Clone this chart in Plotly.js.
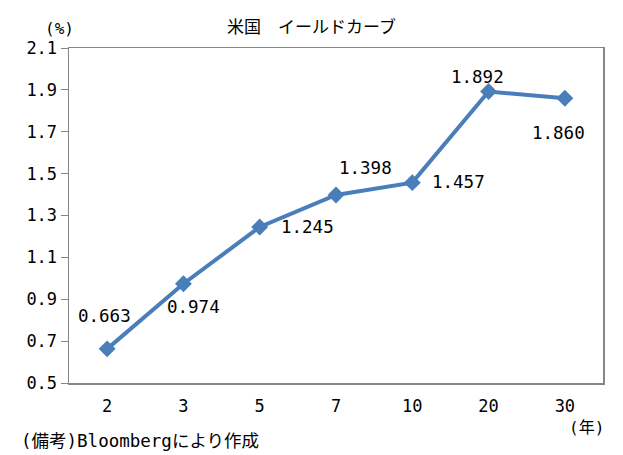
<!DOCTYPE html>
<html>
<head>
<meta charset="utf-8">
<script src="https://cdn.plot.ly/plotly-3.0.1.min.js"></script>
<style>
  html, body { margin: 0; padding: 0; background: #fff; }
  #chart { width: 623px; height: 455px; }
</style>
</head>
<body>
<div id="chart"></div>
<script>
// 年限と利回り
var maturities = ['2', '3', '5', '7', '10', '20', '30'];
var yields = [0.663, 0.974, 1.245, 1.398, 1.457, 1.892, 1.860];
var yieldLabels = ['0.663', '0.974', '1.245', '1.398', '1.457', '1.892', '1.860'];
var yTicks = [0.5, 0.7, 0.9, 1.1, 1.3, 1.5, 1.7, 1.9, 2.1];

// ラベルの位置ずらし (px)
var labelShiftX = [-3, 10, 48, 29, 46, -11, -6];
var labelShiftY = [33, -23, 0, 27, 1, 15, -35];

var numFont = 'DejaVu Sans Mono, Liberation Mono, monospace';
var mixFont = 'DejaVu Sans Mono, Noto Sans CJK JP, sans-serif';
var jpFont = 'Noto Sans CJK JP, sans-serif';
var lineColor = '#4a7ebb';
var axisColor = '#868686';

var trace = {
    type: 'scatter',
    mode: 'lines+markers',
    x: maturities,
    y: yields,
    line: { color: lineColor, width: 4 },
    marker: { symbol: 'diamond', size: 13, color: lineColor },
    hoverinfo: 'x+y'
};

// カテゴリ軸では注釈の x は番号で指定
var annotations = maturities.map(function (m, i) {
    return {
        x: i, y: yields[i], xref: 'x', yref: 'y',
        text: yieldLabels[i],
        showarrow: false,
        xshift: labelShiftX[i], yshift: labelShiftY[i],
        font: { family: numFont, size: 17.5, color: '#000' }
    };
});

annotations.push({
    xref: 'paper', yref: 'paper', x: -0.017, y: 1.057,
    xanchor: 'center', yanchor: 'middle',
    text: '(%)', showarrow: false,
    font: { family: mixFont, size: 16, color: '#000' }
});
annotations.push({
    xref: 'paper', yref: 'paper', x: 0.97, y: -0.134,
    xanchor: 'center', yanchor: 'middle',
    text: '(年)', showarrow: false,
    font: { family: mixFont, size: 16, color: '#000' }
});
annotations.push({
    xref: 'paper', yref: 'paper', x: -0.094, y: -0.173,
    xanchor: 'left', yanchor: 'middle',
    text: '(備考)Bloombergにより作成', showarrow: false,
    font: { family: mixFont, size: 17.5, color: '#000' }
});

var layout = {
    width: 623,
    height: 455,
    margin: { l: 69, r: 20, t: 48, b: 72 },
    paper_bgcolor: '#fff',
    plot_bgcolor: '#fff',
    showlegend: false,
    title: {
        text: '米国　イールドカーブ',
        xref: 'container', x: 0.5, xanchor: 'center',
        yref: 'container', y: 0.94, yanchor: 'middle',
        font: { family: jpFont, size: 17, color: '#000' }
    },
    xaxis: {
        type: 'category',
        range: [-0.5, maturities.length - 0.5],
        autorange: false,
        showgrid: false,
        zeroline: false,
        showline: true, mirror: true,
        linecolor: axisColor, linewidth: 1.5,
        ticks: '',
        tickfont: { family: numFont, size: 17, color: '#000' },
        ticklabelstandoff: 7
    },
    yaxis: {
        range: [0.5, 2.1],
        tickvals: yTicks,
        ticktext: yTicks.map(function (v) { return v.toFixed(1); }),
        showgrid: false,
        zeroline: false,
        showline: true, mirror: true,
        linecolor: axisColor, linewidth: 1.5,
        ticks: 'outside', ticklen: 7, tickcolor: axisColor,
        tickfont: { family: numFont, size: 17, color: '#000' }
    },
    annotations: annotations
};

Plotly.newPlot('chart', [trace], layout, { displayModeBar: false, staticPlot: true });
</script>
</body>
</html>
